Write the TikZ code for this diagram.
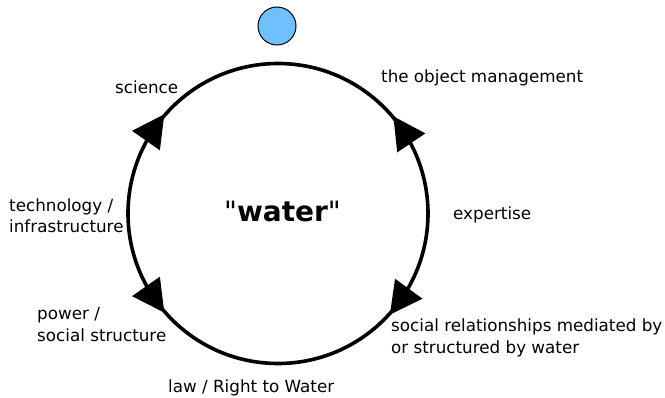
\documentclass[tikz,border=0pt]{standalone}
\usepackage{fontspec}
\setmainfont{DejaVu Sans}[Ligatures=TeXOff]
\begin{document}
\begin{tikzpicture}[x=1pt,y=1pt,
  ringline/.style={circle, draw=black, line width=3.6pt, minimum size=300pt, inner sep=0pt},
  dropnode/.style={circle, draw=black, line width=1pt, fill=dropblue, minimum size=38pt, inner sep=0pt},
  lbl/.style={font=\fontsize{16.75}{21.5}\selectfont, inner sep=0pt, align=left, anchor=base west},
  arrowtri/.pic={\fill[black] (16,0) -- (-16,17) -- (-16,-17) -- cycle;}
]
\definecolor{dropblue}{RGB}{110,192,255}
\useasboundingbox (0,0) rectangle (665,397);
\node[ringline] (ring) at (278,183.5) {};
\node[dropnode] (drop) at (277,371) {};
\pic[rotate=55] at ([shift={(ring.center)}]145:150) {arrowtri};
\pic[rotate=124] at ([shift={(ring.center)}]34:150) {arrowtri};
\pic[rotate=305] at ([shift={(ring.center)}]215:150) {arrowtri};
\pic[rotate=234] at ([shift={(ring.center)}]324:150) {arrowtri};
\node[font=\fontsize{28}{30}\selectfont, inner sep=0pt, anchor=base] (water) at (282.5,175) {"\textbf{water}"};
\node[lbl] (science) at (115,303) {science};
\node[lbl] (object) at (381,314) {the object management};
\node[lbl] (tech) at (9,164) {technology /\\infrastructure};
\node[lbl] (expert) at (453,177) {expertise};
\node[lbl] (power) at (37,56) {power /\\social structure};
\node[lbl] (social) at (391,44) {social relationships mediated by\\or structured by water};
\node[lbl] (law) at (168,5) {law / Right to Water};
\end{tikzpicture}
\end{document}
